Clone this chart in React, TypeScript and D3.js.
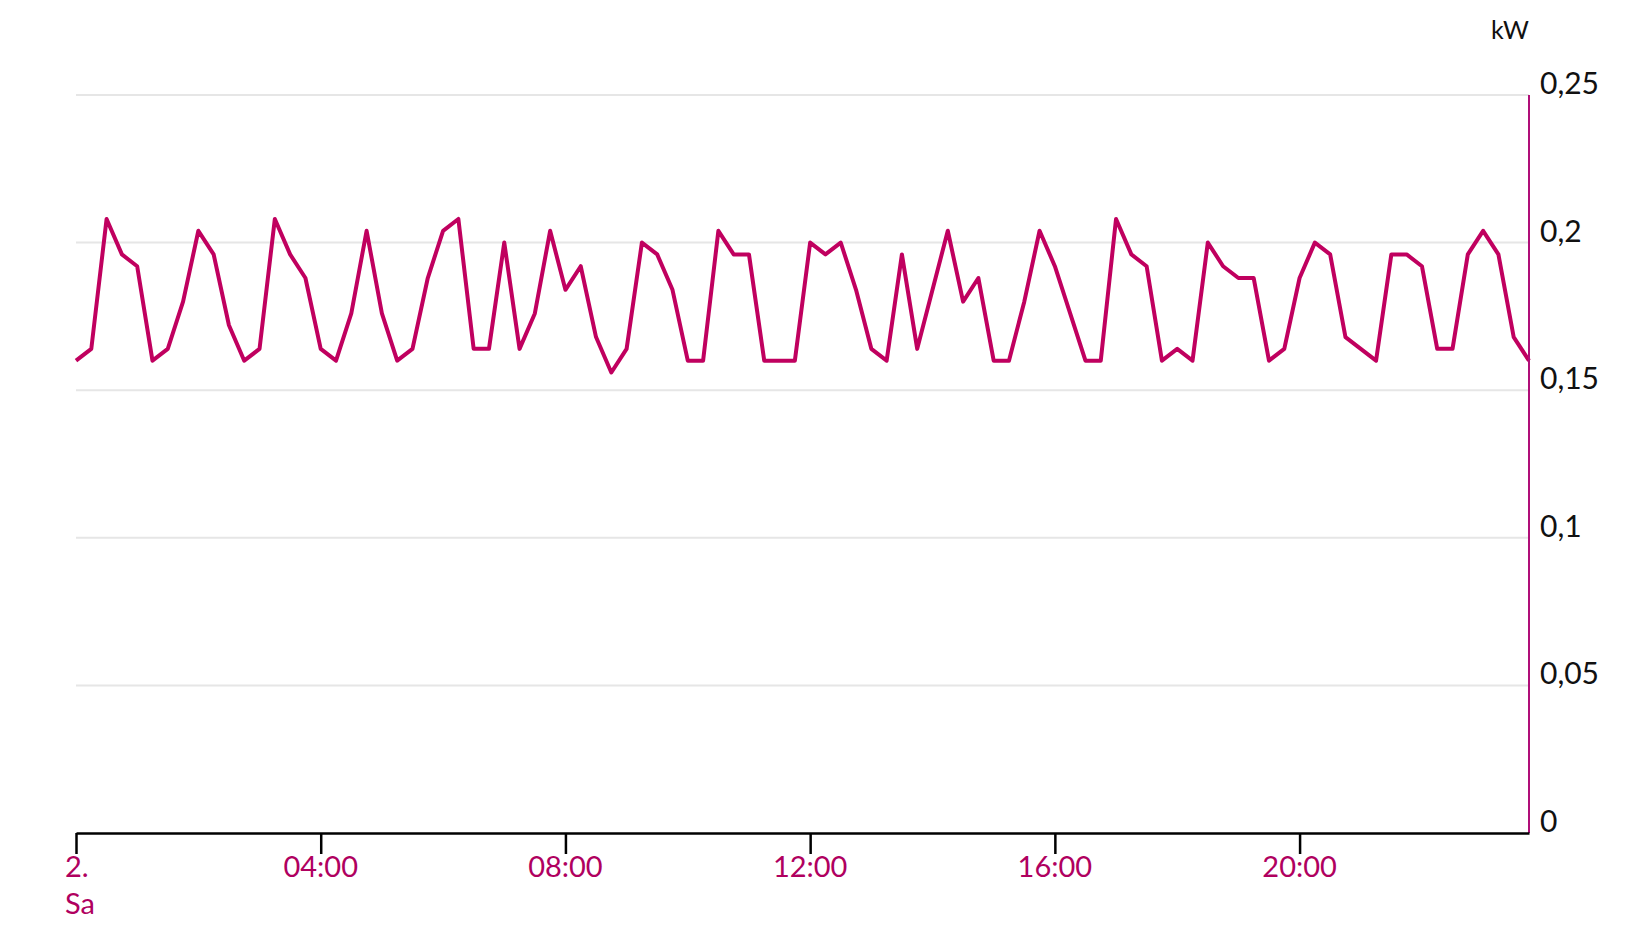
import { useEffect, useRef } from "react";
import * as d3 from "d3";

// quarter-hour power readings (kW), Sa 2., 00:00 .. 23:45
const powerKw = [
  0.16, 0.164, 0.208, 0.196, 0.192, 0.16, 0.164, 0.18, 0.204, 0.196, 0.172, 0.16,
  0.164, 0.208, 0.196, 0.188, 0.164, 0.16, 0.176, 0.204, 0.176, 0.16, 0.164, 0.188,
  0.204, 0.208, 0.164, 0.164, 0.2, 0.164, 0.176, 0.204, 0.184, 0.192, 0.168, 0.156,
  0.164, 0.2, 0.196, 0.184, 0.16, 0.16, 0.204, 0.196, 0.196, 0.16, 0.16, 0.16,
  0.2, 0.196, 0.2, 0.184, 0.164, 0.16, 0.196, 0.164, 0.184, 0.204, 0.18, 0.188,
  0.16, 0.16, 0.18, 0.204, 0.192, 0.176, 0.16, 0.16, 0.208, 0.196, 0.192, 0.16,
  0.164, 0.16, 0.2, 0.192, 0.188, 0.188, 0.16, 0.164, 0.188, 0.2, 0.196, 0.168,
  0.164, 0.16, 0.196, 0.196, 0.192, 0.164, 0.164, 0.196, 0.204, 0.196, 0.168, 0.16,
];
const xTickHours = [0, 4, 8, 12, 16, 20];
const xTickLabels = [["2.", "Sa"], ["04:00"], ["08:00"], ["12:00"], ["16:00"], ["20:00"]];
const yTicks = [0, 0.05, 0.1, 0.15, 0.2, 0.25];
const yTickLabels = ["0", "0,05", "0,1", "0,15", "0,2", "0,25"];

const FONT = "Lato, 'Open Sans', sans-serif";
const LINE = "#c0005f";
const ACCENT = "#b00e78";

function PowerChart() {
  const ref = useRef<SVGSVGElement>(null);

  useEffect(() => {
    const el = ref.current;
    if (!el) return;
    const W = 1630, H = 950, M = { top: 95, right: 101, bottom: 117, left: 76 };
    const svg = d3.select(el).attr("viewBox", `0 0 ${W} ${H}`).attr("width", W).attr("height", H);
    svg.selectAll("*").remove();

    const hours = powerKw.map((_v, i) => i / 4);
    const x = d3.scaleLinear().domain([0, 23.75]).range([M.left, W - M.right]);
    const y = d3.scaleLinear().domain([0, 0.25]).range([H - M.bottom, M.top]);

    // grid
    yTicks.filter((t) => t > 0).forEach((t) => {
      svg.append("line").attr("x1", x(0)).attr("x2", x(23.75)).attr("y1", y(t)).attr("y2", y(t))
        .attr("stroke", "#e6e6e6").attr("stroke-width", 2);
    });

    // series
    const line = d3.line<number>().x((_d, i) => x(hours[i])).y((d) => y(d));
    svg.append("path").datum(powerKw).attr("fill", "none").attr("stroke", LINE)
      .attr("stroke-width", 4).attr("stroke-linejoin", "round").attr("d", line as any);

    // right axis
    svg.append("line").attr("x1", x(23.75)).attr("x2", x(23.75)).attr("y1", y(0.25)).attr("y2", y(0))
      .attr("stroke", ACCENT).attr("stroke-width", 2);
    svg.append("g").selectAll("text").data(yTicks).join("text")
      .attr("x", x(23.75) + 11).attr("y", (d) => y(d) - 1)
      .attr("fill", "#111").attr("font-size", 30).attr("font-family", FONT)
      .text((_d, i) => yTickLabels[i]);
    svg.append("text").attr("x", x(23.75)).attr("y", 39).attr("text-anchor", "end")
      .attr("fill", "#111").attr("font-size", 25).attr("font-family", FONT).text("kW");

    // bottom axis
    const axis = d3.axisBottom(x).tickValues(xTickHours).tickSize(21).tickSizeOuter(0).tickFormat(() => "");
    const g = svg.append("g").attr("transform", `translate(0,${y(0)})`).call(axis);
    g.select(".domain").attr("stroke", "#000").attr("stroke-width", 2.5);
    g.selectAll(".tick line").attr("stroke", "#000").attr("stroke-width", 2.5);
    g.selectAll(".tick text").remove();

    xTickHours.forEach((h, i) => {
      const lines = xTickLabels[i];
      const t = svg.append("text").attr("font-size", 29).attr("font-family", FONT).attr("fill", "#b0005f")
        .attr("text-anchor", lines.length > 1 ? "start" : "middle");
      lines.forEach((s, j) => {
        t.append("tspan").attr("x", lines.length > 1 ? x(h) - 11 : x(h)).attr("y", y(0) + 44 + j * 37).text(s);
      });
    });
  }, []);

  return <svg ref={ref} role="img" aria-label="Leistung kW" style={{ display: "block" }} />;
}

export default function App() {
  return (
    <div style={{ position: "absolute", left: 0, top: 0, width: 1630, height: 950, background: "#fff" }}>
      <PowerChart />
    </div>
  );
}
